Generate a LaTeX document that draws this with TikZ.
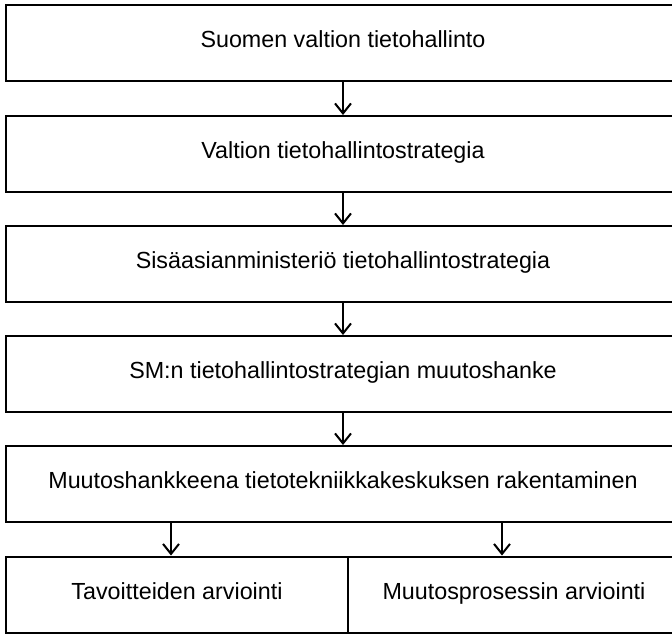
\documentclass[tikz,border=0pt]{standalone}
\usepackage{fontspec}
\setmainfont{Liberation Sans}
\usetikzlibrary{positioning,arrows.meta}

\begin{document}
\begin{tikzpicture}[
square/.style={rectangle, draw=black, fill=white, line width=2pt, inner sep=0pt, minimum height=76pt, text height=0.96em, text depth=0pt, font=\fontsize{23.3}{28}\selectfont},
wide_square/.style={square, minimum width=674pt},
out_arrow/.style={-{Straight Barb[length=10pt,width=16pt]}, line width=2pt}
]
\useasboundingbox (0,0) rectangle (672pt,-633pt);

% \node[type](name_of_node) at (x,y) {node_text}
\node[wide_square](box_1) at (343pt,-43pt) {Suomen valtion tietohallinto};
\node[wide_square](box_2) at (343pt,-154pt) {Valtion tietohallintostrategia};
\node[wide_square](box_3) at (343pt,-264pt) {Sisäasianministeriö tietohallintostrategia};
\node[wide_square](box_4) at (343pt,-374pt) {SM:n tietohallintostrategian muutoshanke};
\node[wide_square](box_5) at (343pt,-484pt) {Muutoshankkeena tietotekniikkakeskuksen rakentaminen};

\node[square, minimum width=342pt](eval_1) at (177pt,-594.5pt) {Tavoitteiden arviointi};
\node[square, minimum width=332pt](eval_2) at (514pt,-594.5pt) {Muutosprosessin arviointi};

% \draw[->](name_of_node) to [] (name_of_node)
\draw[out_arrow](box_1) to [] (box_2);
\draw[out_arrow](box_2) to [] (box_3);
\draw[out_arrow](box_3) to [] (box_4);
\draw[out_arrow](box_4) to [] (box_5);

\draw[out_arrow]([xshift=-6pt]box_5.south -| eval_1.north) to [] ([xshift=-6pt]eval_1.north);
\draw[out_arrow]([xshift=-12pt]box_5.south -| eval_2.north) to [] ([xshift=-12pt]eval_2.north);
\end{tikzpicture}
\end{document}
